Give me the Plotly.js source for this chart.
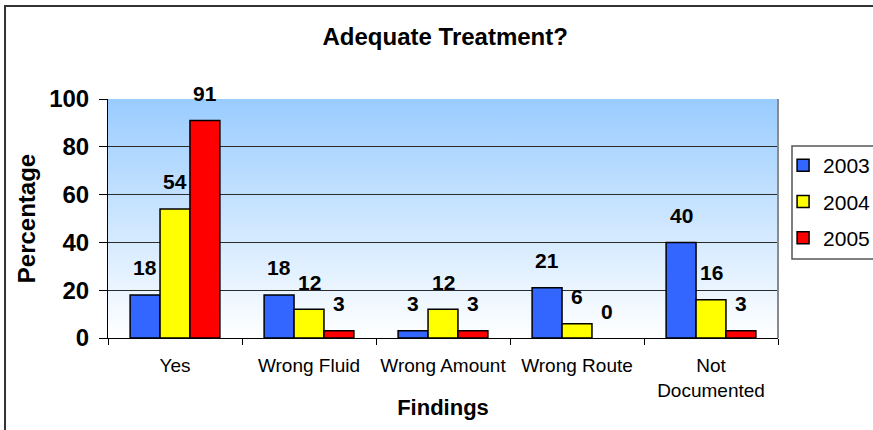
<!DOCTYPE html>
<html>
<head>
<meta charset="utf-8">
<script src="https://cdn.plot.ly/plotly-3.0.1.min.js"></script>
<style>
  html, body { margin: 0; padding: 0; background: #ffffff; overflow: hidden; }
  #chart { width: 873px; height: 430px; }
</style>
</head>
<body>
<div id="chart"></div>
<script>
// Findings per year (percent of cases)
const categories = ['Yes', 'Wrong Fluid', 'Wrong Amount', 'Wrong Route', 'Not<br>Documented'];
const years = ['2003', '2004', '2005'];
const values2003 = [18, 18, 3, 21, 40];
const values2004 = [54, 12, 12, 6, 16];
const values2005 = [91, 3, 3, 0, 3];
const yTicks = [0, 20, 40, 60, 80, 100];

const seriesValues = [values2003, values2004, values2005];
const seriesColors = ['#3366FF', '#FFFF00', '#FF0000'];

const FONT = 'Arial, "Liberation Sans", sans-serif';
const BARGAP = 0.33;

const traces = years.map((yr, i) => ({
  type: 'bar',
  name: yr,
  legendgroup: yr,
  x: categories,
  y: seriesValues[i],
  marker: {
    color: seriesColors[i],
    // no outline on empty bars so nothing shows at zero
    line: { color: '#000000', width: seriesValues[i].map(v => (v === 0 ? 0 : 1.5)) }
  },
  hoverinfo: 'x+y+name'
}));

// Value labels floating above each bar, placed at the bar's own value
const barWidth = (1 - BARGAP) / years.length;
const valueLabels = [];
seriesValues.forEach((vals, s) => {
  vals.forEach((v, c) => {
    valueLabels.push({
      xref: 'x', yref: 'y',
      x: c + (s - (years.length - 1) / 2) * barWidth,
      y: v,
      text: String(v),
      showarrow: false,
      xanchor: 'center', yanchor: 'middle',
      yshift: 27,
      font: { family: FONT, size: 21, weight: 'bold', color: '#000000' }
    });
  });
});

// Light-blue to white vertical wash behind the bars
const gradSvg =
  '<svg xmlns="http://www.w3.org/2000/svg" width="100" height="100" preserveAspectRatio="none">' +
  '<defs><linearGradient id="g" x1="0" y1="0" x2="0" y2="1">' +
  '<stop offset="0" stop-color="#99CCFF"/><stop offset="1" stop-color="#FFFFFF"/>' +
  '</linearGradient></defs><rect width="100" height="100" fill="url(#g)"/></svg>';
const gradUri = 'data:image/svg+xml;charset=utf-8,' + encodeURIComponent(gradSvg);

const layout = {
  width: 873,
  height: 430,
  autosize: false,
  margin: { l: 108, r: 95, t: 99, b: 92 },
  paper_bgcolor: '#ffffff',
  plot_bgcolor: 'rgba(0,0,0,0)',
  font: { family: FONT, color: '#000000' },
  title: {
    text: 'Adequate Treatment?',
    font: { family: FONT, size: 24, weight: 'bold', color: '#000000' },
    x: 0.51, xanchor: 'center', y: 0.916, yanchor: 'middle'
  },
  barmode: 'group',
  bargap: BARGAP,
  bargroupgap: 0,
  showlegend: true,
  legend: {
    xref: 'container', yref: 'container',
    x: 0.897, xanchor: 'left', y: 0.6628, yanchor: 'top',
    bgcolor: 'rgba(0,0,0,0)',
    borderwidth: 0,
    font: { family: FONT, size: 21, color: '#000000' },
    traceorder: 'grouped',
    tracegroupgap: 6
  },
  xaxis: {
    type: 'category',
    tickson: 'boundaries',
    ticks: 'outside',
    ticklen: 6,
    tickcolor: '#000000',
    tickwidth: 1,
    tickangle: 0,
    showline: true,
    linecolor: '#000000',
    linewidth: 1,
    showgrid: false,
    tickfont: { family: FONT, size: 19, color: '#000000' },
    ticklabelstandoff: 10,
    title: {
      text: 'Findings',
      font: { family: FONT, size: 22, weight: 'bold', color: '#000000' },
      standoff: 0
    },
    automargin: false
  },
  yaxis: {
    range: [0, 100],
    tickvals: yTicks,
    ticks: 'outside',
    ticklen: 8,
    tickcolor: '#000000',
    showline: true,
    linecolor: '#000000',
    linewidth: 1,
    showgrid: true,
    gridcolor: '#2b2b2b',
    gridwidth: 1,
    zeroline: false,
    tickfont: { family: FONT, size: 24, weight: 'bold', color: '#000000' },
    ticklabelstandoff: 5,
    title: {
      text: 'Percentage',
      font: { family: FONT, size: 24, weight: 'bold', color: '#000000' },
      standoff: 6
    },
    automargin: false
  },
  annotations: valueLabels,
  images: [{
    source: gradUri,
    xref: 'paper', yref: 'paper',
    x: 0, y: 1, sizex: 1, sizey: 1,
    xanchor: 'left', yanchor: 'top',
    sizing: 'stretch',
    layer: 'below'
  }],
  shapes: [
    // outer chart frame
    { type: 'rect', xref: 'paper', yref: 'paper',
      x0: -0.1537, x1: 1.18, y0: -0.45, y1: 1.389,
      line: { color: '#333333', width: 2 }, fillcolor: 'rgba(0,0,0,0)', layer: 'above' },
    // plot area right edge
    { type: 'line', xref: 'paper', yref: 'paper',
      x0: 1, x1: 1, y0: 0, y1: 1,
      line: { color: '#8a8a8a', width: 2 }, layer: 'above' },
    // legend frame
    { type: 'rect', xref: 'paper', yref: 'paper',
      x0: 1.0209, x1: 1.17, y0: 0.331, y1: 0.803,
      line: { color: '#555555', width: 1.5 }, fillcolor: 'rgba(0,0,0,0)', layer: 'above' }
  ]
};

Plotly.newPlot('chart', traces, layout, { displayModeBar: false, responsive: false });
</script>
</body>
</html>
